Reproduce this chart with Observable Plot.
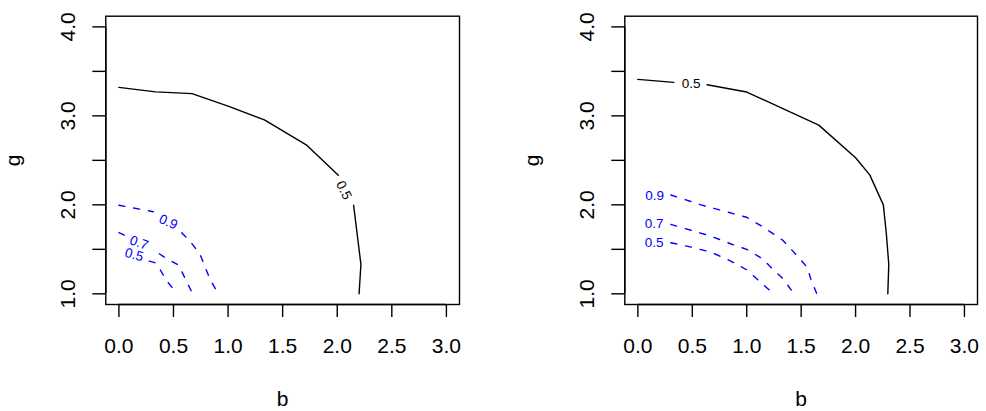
<!DOCTYPE html>
<html>
<head>
<meta charset="utf-8">
<script src="https://cdn.jsdelivr.net/npm/d3@7"></script>
<script src="https://cdn.jsdelivr.net/npm/@observablehq/plot@0.6"></script>
<style>
  html, body { margin: 0; padding: 0; background: #fff; }
  #wrap { display: flex; width: 986px; height: 411px; }
  #wrap svg { display: block; }
</style>
</head>
<body>
<div id="wrap"></div>
<script>
// ---- axes ----
const xDomain = [-0.12, 3.12];
const yDomain = [0.88, 4.12];
const xTicks = [0, 0.5, 1, 1.5, 2, 2.5, 3];
const xTickLabels = ["0.0", "0.5", "1.0", "1.5", "2.0", "2.5", "3.0"];
const yTicks = [1, 1.5, 2, 2.5, 3, 3.5, 4];
const yTickLabels = ["1.0", "", "2.0", "", "3.0", "", "4.0"];
const xLabel = "b";
const yLabel = "g";

// ---- left panel contours [b, g]; null = gap under a label ----
const leftSolid05 = [[0, 3.32], [0.337, 3.27], [0.67, 3.25], [1.0, 3.11], [1.333, 2.955], [1.716, 2.675], [2.01, 2.333], null, [2.15, 1.995], [2.217, 1.33], [2.20, 1.0]];
const leftDashed09 = [[0, 1.995], [0.315, 1.923], null, [0.575, 1.687], [0.651, 1.593], [0.743, 1.444], [0.835, 1.162], [0.911, 1.0]];
const leftDashed07 = [[0, 1.687], [0.05, 1.66], null, [0.37, 1.45], [0.42, 1.41], [0.48, 1.368], [0.55, 1.32], [0.606, 1.173], [0.676, 1.0]];
const leftDashed05 = [[0.278, 1.368], [0.33, 1.35], [0.376, 1.275], [0.42, 1.18], [0.452, 1.124], [0.535, 1.0]];
// labels: [b, g, text, angle]
const leftSolidLabels = [[2.06, 2.164, "0.5", 63]];
const leftDashedLabels = [[0.452, 1.807, "0.9", 23], [0.185, 1.573, "0.7", 20], [0.139, 1.439, "0.5", 15]];

// ---- right panel contours ----
const rightSolid05 = [[0, 3.41], [0.33, 3.376], null, [0.636, 3.35], [1.0, 3.268], [1.662, 2.896], [2.0, 2.53], [2.13, 2.337], [2.255, 2.0], [2.283, 1.67], [2.305, 1.33], [2.296, 1.0]];
const rightDashed09 = [[0.303, 2.111], [0.58, 2.0], [1.0, 1.86], [1.16, 1.743], [1.333, 1.6], [1.48, 1.405], [1.558, 1.293], [1.59, 1.16], [1.644, 1.0]];
const rightDashed07 = [[0.303, 1.78], [0.5, 1.71], [0.667, 1.65], [0.85, 1.563], [1.0, 1.5], [1.15, 1.39], [1.22, 1.3], [1.333, 1.17], [1.435, 1.0]];
const rightDashed05 = [[0.303, 1.574], [0.49, 1.525], [0.667, 1.47], [0.85, 1.37], [1.0, 1.27], [1.11, 1.15], [1.246, 1.0]];
const rightSolidLabels = [[0.49, 3.365, "0.5", 0]];
const rightDashedLabels = [[0.153, 2.108, "0.9", 0], [0.15, 1.788, "0.7", 0], [0.15, 1.574, "0.5", 0]];

const FONT = "'Liberation Sans', Arial, Helvetica, sans-serif";
const BLUE = "#0000ff";
const LW = 1.4;
const FS = 21;

const px = d => (d ? d[0] : NaN);
const py = d => (d ? d[1] : NaN);

function contourLines(pts, dashed) {
  return Plot.line(pts, {
    x: px, y: py,
    stroke: dashed ? BLUE : "black",
    strokeWidth: LW,
    strokeDasharray: dashed ? "6,9" : null,
    curve: "linear"
  });
}
function contourLabels(labels, color) {
  return Plot.text(labels, {
    x: d => d[0], y: d => d[1], text: d => d[2], rotate: d => d[3],
    fill: color, fontSize: 13.5, textAnchor: "middle", lineAnchor: "middle"
  });
}

function panel({marginLeft, marginRight, solids, dashes, solidLabels, dashedLabels}) {
  return Plot.plot({
    width: 493, height: 411,
    marginLeft, marginRight, marginTop: 15.7, marginBottom: 107,
    x: {domain: xDomain},
    y: {domain: yDomain},
    style: {fontFamily: FONT, background: "white", color: "black"},
    marks: [
      Plot.frame({stroke: "black", strokeWidth: LW}),
      Plot.ruleY([yDomain[0]], {x1: xTicks[0], x2: xTicks[xTicks.length - 1], stroke: "black", strokeWidth: LW}),
      Plot.ruleX([xDomain[0]], {y1: yTicks[0], y2: yTicks[yTicks.length - 1], stroke: "black", strokeWidth: LW}),
      Plot.axisX(xTicks, {
        anchor: "bottom", tickSize: 13, tickPadding: 20.4, fontSize: FS, strokeWidth: LW,
        tickFormat: d => xTickLabels[xTicks.indexOf(d)], label: null
      }),
      Plot.axisY(yTicks, {
        anchor: "left", tickSize: 13, tickPadding: 17.5, tickRotate: -90, fontSize: FS, strokeWidth: LW,
        tickFormat: d => yTickLabels[yTicks.indexOf(d)], label: null
      }),
      Plot.text([xLabel], {text: d => d, frameAnchor: "bottom", textAnchor: "middle", lineAnchor: "bottom", dy: 101, fontSize: FS}),
      Plot.text([yLabel], {text: d => d, frameAnchor: "left", textAnchor: "middle", lineAnchor: "bottom", rotate: -90, dx: -86, fontSize: FS}),
      ...solids.map(s => contourLines(s, false)),
      ...dashes.map(s => contourLines(s, true)),
      contourLabels(solidLabels, "black"),
      contourLabels(dashedLabels, BLUE)
    ]
  });
}

const wrap = document.getElementById("wrap");
wrap.appendChild(panel({
  marginLeft: 105.3, marginRight: 34,
  solids: [leftSolid05], dashes: [leftDashed09, leftDashed07, leftDashed05],
  solidLabels: leftSolidLabels, dashedLabels: leftDashedLabels
}));
wrap.appendChild(panel({
  marginLeft: 131.3, marginRight: 9,
  solids: [rightSolid05], dashes: [rightDashed09, rightDashed07, rightDashed05],
  solidLabels: rightSolidLabels, dashedLabels: rightDashedLabels
}));
</script>
</body>
</html>
